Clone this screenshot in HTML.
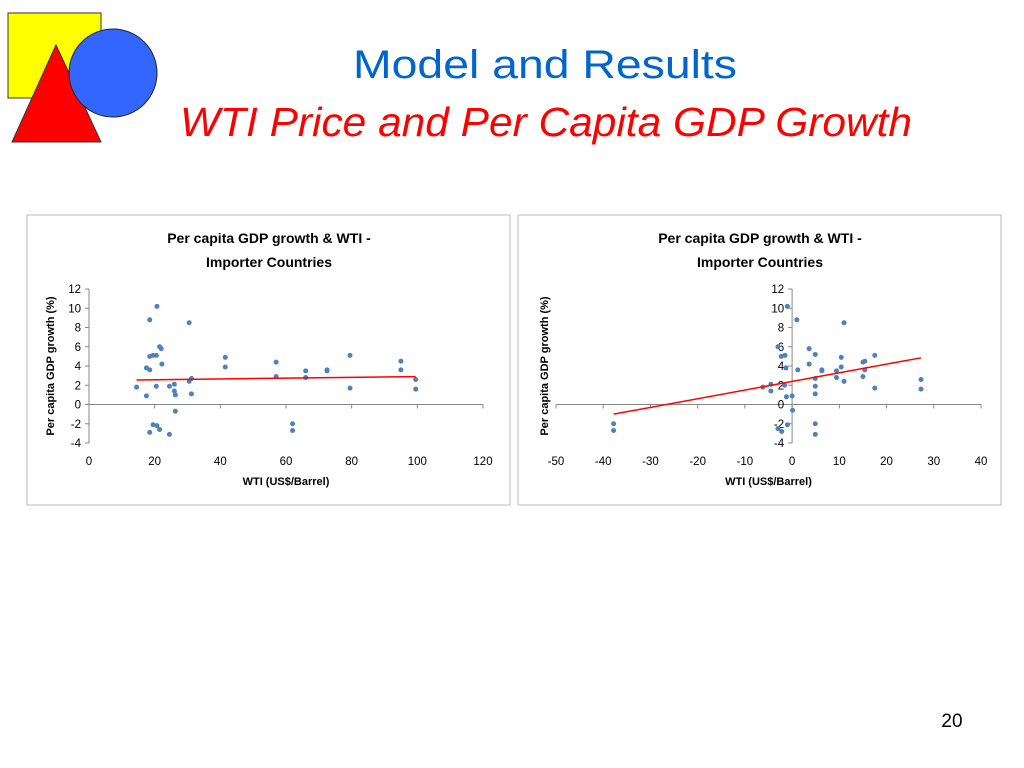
<!DOCTYPE html>
<html><head><meta charset="utf-8"><style>
body{margin:0;width:1024px;height:768px;background:#fff;overflow:hidden;font-family:"Liberation Sans",sans-serif}
svg{position:absolute;left:0;top:0}
</style></head><body>
<svg width="1024" height="768">
<g>
<rect x="8" y="13" width="93" height="85" fill="#ffff00" stroke="#333" stroke-width="1"/>
<polygon points="56,45 12,142 101,142" fill="#ff0000" stroke="#333" stroke-width="1"/>
<circle cx="113" cy="73" r="44" fill="#3366ff" stroke="#222" stroke-width="1"/>
</g>
<text x="545" y="78" text-anchor="middle" font-size="40" fill="#0066cc" font-family="Liberation Sans, sans-serif" textLength="384" lengthAdjust="spacingAndGlyphs">Model and Results</text>
<text x="546" y="136" text-anchor="middle" font-size="41" font-style="italic" fill="#ff0000" font-family="Liberation Sans, sans-serif" textLength="732" lengthAdjust="spacingAndGlyphs">WTI Price and Per Capita GDP Growth</text>
<text x="952" y="727" text-anchor="middle" font-size="19" fill="#000">20</text>
<g id="c1"></g><g id="c2"></g>
</svg>
<script>
const c1x=[14.5,17.5,17.5,18.5,18.5,18.5,19.5,20.5,20.7,20.5,21.5,22,22.2,19.5,20.7,21.5,18.5,24.5,24.5,26,26,26.3,26.3,30.5,30.5,31.2,31.2,41.5,41.5,57,57,62,62,66,66,72.5,72.5,79.5,79.5,95,95,99.5,99.5];
const c1y=[1.8,0.9,3.8,3.6,5,8.8,5.1,5.1,10.2,1.9,6,5.8,4.2,-2.1,-2.2,-2.6,-2.9,-3.1,1.9,2.1,1.4,1,-0.7,8.5,2.4,2.7,1.1,4.9,3.9,4.4,2.9,-2,-2.7,3.5,2.8,3.6,3.5,5.1,1.7,4.5,3.6,2.6,1.6];
const c1trend=[[14.5,2.55],[99.5,2.9]];
const c1xticks=[0,20,40,60,80,100,120];
const c2x=[-37.8,-37.8,-6.2,-4.5,-4.5,-3,-2.2,-2.3,-1.5,-1.6,-1.3,-1.2,-1,-1,1,1.2,0,0.1,-3,3.6,3.6,4.9,4.9,4.9,4.9,4.9,4.9,6.3,6.3,9.4,9.4,10.4,10.4,11,11,15,15,15.4,15.4,17.5,17.5,27.3,27.3];
const c2y=[-2,-2.7,1.8,2.1,1.4,-2.5,-2.8,5,5.1,2,3.8,0.8,-2.1,10.2,8.8,3.6,0.9,-0.6,6,5.8,4.2,5.2,2.7,1.9,1.1,-2,-3.1,3.6,3.5,3.5,2.8,4.9,3.9,8.5,2.4,4.4,2.9,4.5,3.6,5.1,1.7,2.6,1.6];
const c2trend=[[-37.8,-1],[27.3,4.85]];
const c2xticks=[-50,-40,-30,-20,-10,0,10,20,30,40];
const yticks=[-4,-2,0,2,4,6,8,10,12];
const NS='http://www.w3.org/2000/svg';
function mk(p,t,a){const e=document.createElementNS(NS,t);for(const k in a)e.setAttribute(k,a[k]);p.appendChild(e);return e;}
function chart(g,px,xs,ys,trend,xt,x0,x1,ox,yAxisX,yTitleX){
 const xmin=xt[0],xmax=xt[xt.length-1];
 const X=v=>x0+(v-xmin)/(xmax-xmin)*(x1-x0);
 const Y=v=>443-(v+4)/16*154;
 const box=mk(g,'rect',{x:px,y:215,width:483,height:290,fill:'#fff',stroke:'#bbb'});
 
 const cx=px+242;
 let t=mk(g,'text',{x:cx,y:243,'text-anchor':'middle','font-size':14,'font-weight':'bold'});t.textContent='Per capita GDP growth & WTI -';
 
 t=mk(g,'text',{x:cx,y:267,'text-anchor':'middle','font-size':14,'font-weight':'bold'});t.textContent='Importer Countries';
 
 const ax=X(ox);
 let l=mk(g,'line',{x1:ax,y1:Y(12),x2:ax,y2:Y(-4),stroke:'#888'});
 
 l=mk(g,'line',{x1:x0,y1:Y(0),x2:x1,y2:Y(0),stroke:'#888'});
 
 yticks.forEach(v=>{const tk=mk(g,'line',{x1:ax-4,y1:Y(v),x2:ax,y2:Y(v),stroke:'#888'});
  
  const s=mk(g,'text',{x:ax-8,y:Y(v)+4,'text-anchor':'end','font-size':11.5});s.textContent=v;
  });
 xt.forEach(v=>{const tk=mk(g,'line',{x1:X(v),y1:Y(0),x2:X(v),y2:Y(0)+4,stroke:'#888'});
  
  const s=mk(g,'text',{x:X(v),y:465,'text-anchor':'middle','font-size':11.5});s.textContent=v;
  });
 t=mk(g,'text',{x:(x0+x1)/2,y:485,'text-anchor':'middle','font-size':11,'font-weight':'bold'});t.textContent='WTI (US$/Barrel)';
 
 t=mk(g,'text',{x:0,y:0,'text-anchor':'middle','font-size':11,'font-weight':'bold',transform:`translate(${yTitleX},366) rotate(-90)`});t.textContent='Per capita GDP growth (%)';
 
 xs.forEach((v,i)=>{const c=mk(g,'circle',{cx:X(v),cy:Y(ys[i]),r:2.5,fill:'#4f81bd'});
  });
 l=mk(g,'line',{x1:X(trend[0][0]),y1:Y(trend[0][1]),x2:X(trend[1][0]),y2:Y(trend[1][1]),stroke:'#ff0000','stroke-width':1.5});
 
}
chart(document.getElementById('c1'),27,c1x,c1y,c1trend,c1xticks,89,483,0,89,54);
chart(document.getElementById('c2'),518,c2x,c2y,c2trend,c2xticks,556,981,0,792,548);
</script>
</body></html>
